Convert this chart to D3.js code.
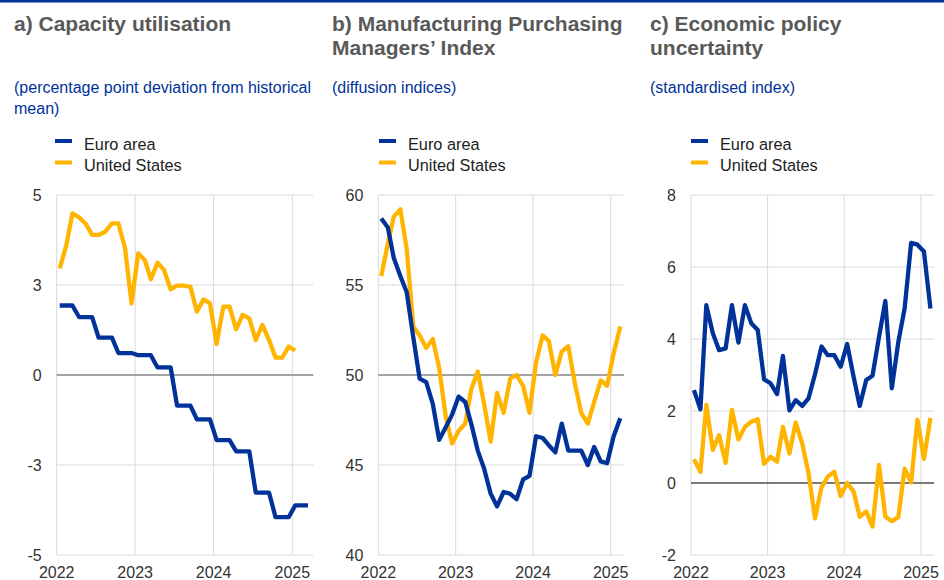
<!DOCTYPE html>
<html>
<head>
<meta charset="utf-8">
<script src="https://cdn.jsdelivr.net/npm/d3@7"></script>
<style>
  body { margin: 0; background: #fff; }
  svg text { font-family: "Liberation Sans", Arial, sans-serif; }
</style>
</head>
<body>
<script>
// series: monthly, Jan 2022 onwards
var capEuro = [1.93, 1.93, 1.93, 1.61, 1.61, 1.61, 1.04, 1.04, 1.04, 0.61, 0.61, 0.61,
  0.55, 0.55, 0.55, 0.21, 0.21, 0.21, -0.85, -0.85, -0.85, -1.23, -1.23, -1.23,
  -1.81, -1.81, -1.81, -2.12, -2.12, -2.12, -3.27, -3.27, -3.27, -3.95, -3.95, -3.95,
  -3.62, -3.62, -3.62];
var capUS = [2.96, 3.61, 4.49, 4.38, 4.21, 3.89, 3.89, 3.98, 4.21, 4.21, 3.52, 1.99,
  3.38, 3.19, 2.66, 3.12, 2.92, 2.38, 2.48, 2.48, 2.45, 1.76, 2.1, 1.99,
  0.86, 1.9, 1.9, 1.27, 1.67, 1.57, 0.97, 1.39, 0.97, 0.48, 0.48, 0.79, 0.68];
var pmiEuro = [58.7, 58.2, 56.5, 55.5, 54.6, 52.1, 49.8, 49.6, 48.4, 46.4, 47.1, 47.8,
  48.8, 48.5, 47.3, 45.8, 44.8, 43.4, 42.7, 43.5, 43.4, 43.1, 44.2, 44.4,
  46.6, 46.5, 46.1, 45.7, 47.3, 45.8, 45.8, 45.8, 45.0, 46.0, 45.2, 45.1, 46.6, 47.6];
var pmiUS = [55.5, 57.3, 58.8, 59.2, 57.0, 52.7, 52.2, 51.5, 52.0, 50.4, 47.7, 46.2,
  46.9, 47.3, 49.2, 50.2, 48.4, 46.3, 49.0, 47.9, 49.8, 50.0, 49.4, 47.9,
  50.7, 52.2, 51.9, 50.0, 51.3, 51.6, 49.6, 47.9, 47.3, 48.5, 49.7, 49.4, 51.2, 52.7];
var epuEuro = [2.58, 2.05, 4.94, 4.16, 3.69, 3.74, 4.94, 3.9, 4.94, 4.44, 4.25, 2.88,
  2.77, 2.47, 3.53, 2.02, 2.3, 2.14, 2.35, 3.02, 3.79, 3.55, 3.55, 3.23,
  3.86, 2.95, 2.14, 2.86, 2.98, 4.06, 5.06, 2.63, 3.92, 4.85, 6.67, 6.62, 6.43, 4.85];
var epuUS = [0.66, 0.31, 2.17, 0.92, 1.33, 0.56, 2.03, 1.21, 1.56, 1.7, 1.77, 0.53,
  0.73, 0.59, 1.56, 0.82, 1.68, 1.1, 0.27, -0.98, -0.12, 0.18, 0.31, -0.36,
  0.0, -0.24, -0.94, -0.79, -1.21, 0.5, -0.93, -1.06, -0.95, 0.4, 0.02, 1.76, 0.67, 1.81];

var years = [2022, 2023, 2024, 2025];
var seriesNames = ["Euro area", "United States"];

var capTicks = [-5, -2.5, 0, 2.5, 5];
var capTickLabels = ["-5", "-3", "0", "3", "5"];
var pmiTicks = [40, 45, 50, 55, 60];
var pmiTickLabels = ["40", "45", "50", "55", "60"];
var epuTicks = [-2, 0, 2, 4, 6, 8];
var epuTickLabels = ["-2", "0", "2", "4", "6", "8"];

var titles = [["a) Capacity utilisation"], ["b) Manufacturing Purchasing", "Managers\u2019 Index"], ["c) Economic policy", "uncertainty"]];
var subtitles = [["(percentage point deviation from historical", "mean)"], ["(diffusion indices)"], ["(standardised index)"]];

var blue = "#003299", yellow = "#ffb400";

var width = 944, height = 580;
var svg = d3.select("body").append("svg")
  .attr("width", width)
  .attr("height", height);

// top rule
svg.append("rect").attr("x", 0).attr("y", 0).attr("width", width).attr("height", 2.5).attr("fill", blue);

var panels = [
  { tx: 14, lx: 55, x0: 56.7, x1: 292.3, right: 313.3, domain: [-5, 5], ticks: capTicks, labels: capTickLabels, base: 0, baseColor: "#8c8c8c",
    series: [capEuro, capUS] },
  { tx: 332, lx: 379, x0: 378.3, x1: 610.7, right: 624, domain: [40, 60], ticks: pmiTicks, labels: pmiTickLabels, base: 50, baseColor: "#8c8c8c",
    series: [pmiEuro, pmiUS] },
  { tx: 650, lx: 691, x0: 691, x1: 921, right: 934, domain: [-2, 8], ticks: epuTicks, labels: epuTickLabels, base: 0, baseColor: "#555",
    series: [epuEuro, epuUS] }
];

var plotTop = 195, plotBottom = 555;

panels.forEach(function (p, i) {
  var g = svg.append("g");

  // title + unit
  titles[i].forEach(function (t, j) {
    g.append("text").attr("x", p.tx).attr("y", 30.5 + j * 24)
      .attr("font-size", 21).attr("font-weight", "bold").attr("fill", "#595959").text(t);
  });
  subtitles[i].forEach(function (t, j) {
    g.append("text").attr("x", p.tx).attr("y", 92.5 + j * 21.5)
      .attr("font-size", 16).attr("fill", blue).text(t);
  });

  // legend
  seriesNames.forEach(function (n, j) {
    g.append("rect").attr("x", p.lx).attr("y", 139 + j * 21.5).attr("width", 17).attr("height", 4)
      .attr("fill", j == 0 ? blue : yellow);
    g.append("text").attr("x", p.lx + 29).attr("y", 149.5 + j * 21.5)
      .attr("font-size", 16.3).attr("fill", "#222").text(n);
  });

  var x = d3.scaleTime()
    .domain([new Date(2022, 0, 1), new Date(2025, 0, 1)])
    .range([p.x0, p.x1]);
  var y = d3.scaleLinear().domain(p.domain).range([plotBottom, plotTop]);

  // grid
  g.selectAll(".hg").data(p.ticks).enter().append("line")
    .attr("x1", p.x0).attr("x2", p.right)
    .attr("y1", d => y(d)).attr("y2", d => y(d))
    .attr("stroke", "#d9d9d9").attr("stroke-width", 1);
  g.selectAll(".vg").data(years).enter().append("line")
    .attr("x1", d => x(new Date(d, 0, 1))).attr("x2", d => x(new Date(d, 0, 1)))
    .attr("y1", plotTop).attr("y2", plotBottom)
    .attr("stroke", "#d9d9d9").attr("stroke-width", 1);
  g.append("line")
    .attr("x1", p.x0).attr("x2", p.right)
    .attr("y1", y(p.base)).attr("y2", y(p.base))
    .attr("stroke", p.baseColor).attr("stroke-width", 1.3);

  // tick labels
  g.selectAll(".yl").data(p.ticks).enter().append("text")
    .attr("x", p.x0 - 15).attr("y", d => y(d) + 5.5)
    .attr("text-anchor", "end").attr("font-size", 16).attr("fill", "#333")
    .text((d, k) => p.labels[k]);
  g.selectAll(".xl").data(years).enter().append("text")
    .attr("x", d => x(new Date(d, 0, 1))).attr("y", 578)
    .attr("text-anchor", "middle").attr("font-size", 16).attr("fill", "#333")
    .text(d => d);

  // lines, points at mid-month; US drawn first, euro area on top
  var line = d3.line()
    .x((d, k) => x(new Date(2022, k, 15)))
    .y(d => y(d));
  [1, 0].forEach(function (j) {
    g.append("path").datum(p.series[j])
      .attr("d", line)
      .attr("fill", "none")
      .attr("stroke", j == 0 ? blue : yellow)
      .attr("stroke-width", 4.3)
      .attr("stroke-linejoin", "round");
  });
});
</script>
</body>
</html>
